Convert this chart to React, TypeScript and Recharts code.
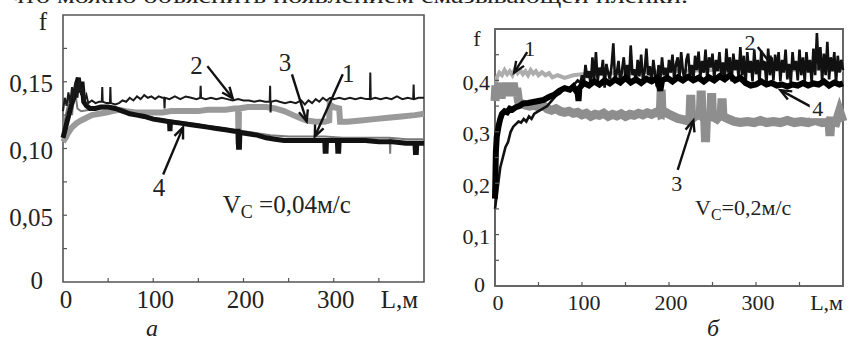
import { LineChart, Line, XAxis, YAxis, ReferenceArea, ReferenceLine, ReferenceDot } from "recharts";

type Pt = [number, number];

// ---- panel "а" (Vc = 0,04 м/с) ----
const A_X_TICKS = [0, 50, 100, 150, 200, 250, 300, 350, 400];
const A_X_LABELS = ["0", "", "100", "", "200", "", "300", "", "L,м"];
const A_Y_TICKS = [0, 0.025, 0.05, 0.075, 0.1, 0.125, 0.15, 0.175, 0.2];
const A_Y_LABELS = ["0", "", "0,05", "", "0,10", "", "0,15", "", "f"];

const A_LINE1: Pt[] = [
  [0, 0.115], [4, 0.128], [8, 0.14], [10, 0.125], [13, 0.145], [16, 0.13], [20, 0.128], [30, 0.129],
  [40, 0.13], [55, 0.13], [70, 0.127], [90, 0.124], [110, 0.122], [130, 0.12], [150, 0.118], [170, 0.116],
  [190, 0.114], [210, 0.112], [230, 0.11], [250, 0.109], [270, 0.109], [290, 0.109], [310, 0.108],
  [330, 0.108], [350, 0.108], [362, 0.108], [362.5, 0.096], [363, 0.108], [380, 0.107], [400, 0.107],
];

const A_LINE2: Pt[] = [
  [0, 0.128], [2, 0.138], [4, 0.132], [6, 0.142], [8, 0.134], [10, 0.146], [12, 0.136], [14, 0.15],
  [16, 0.138], [18, 0.152], [20, 0.14], [22, 0.146], [24, 0.136], [26, 0.14], [28, 0.134], [32, 0.136],
  [36, 0.134], [40, 0.135], [43, 0.135], [43.5, 0.146], [44, 0.135], [48, 0.134], [52, 0.134], [52.5, 0.146],
  [53, 0.134], [58, 0.133], [62, 0.134], [66, 0.136], [70, 0.135], [74, 0.138], [78, 0.136], [82, 0.139],
  [86, 0.137], [90, 0.14], [94, 0.138], [98, 0.139], [102, 0.137], [106, 0.139], [110, 0.138], [112, 0.138],
  [112.5, 0.13], [113, 0.138], [118, 0.137], [124, 0.139], [130, 0.137], [136, 0.139], [142, 0.138],
  [148, 0.137], [152, 0.138], [152.5, 0.147], [153, 0.138], [158, 0.137], [164, 0.138], [170, 0.137],
  [176, 0.138], [182, 0.137], [188, 0.136], [194, 0.137], [200, 0.136], [206, 0.136], [212, 0.135],
  [218, 0.136], [224, 0.135], [229, 0.135], [229.5, 0.147], [230, 0.127], [230.5, 0.135], [236, 0.136],
  [240, 0.135], [246, 0.134], [252, 0.135], [258, 0.134], [264, 0.136], [268, 0.133], [272, 0.136],
  [276, 0.134], [280, 0.137], [284, 0.135], [288, 0.138], [292, 0.136], [296, 0.138], [300, 0.137],
  [306, 0.138], [312, 0.137], [318, 0.138], [324, 0.137], [330, 0.138], [336, 0.137], [340, 0.137],
  [340.5, 0.157], [341, 0.137], [346, 0.138], [352, 0.137], [358, 0.138], [364, 0.137], [370, 0.139],
  [376, 0.137], [382, 0.138], [388, 0.137], [388.5, 0.148], [389, 0.137], [394, 0.138], [400, 0.138],
];

const A_LINE3: Pt[] = [
  [0, 0.105], [3, 0.108], [6, 0.112], [10, 0.116], [15, 0.119], [20, 0.121], [26, 0.123], [32, 0.125],
  [40, 0.126], [48, 0.127], [55, 0.128], [62, 0.129], [70, 0.128], [80, 0.127], [90, 0.127], [100, 0.127],
  [110, 0.127], [120, 0.128], [130, 0.128], [140, 0.128], [150, 0.128], [160, 0.129], [170, 0.129],
  [180, 0.129], [190, 0.13], [194, 0.13], [194.5, 0.103], [195, 0.13], [205, 0.131], [215, 0.131],
  [225, 0.131], [235, 0.13], [245, 0.128], [255, 0.125], [262, 0.123], [270, 0.121], [280, 0.12],
  [290, 0.12], [295, 0.121], [295.5, 0.133], [300, 0.131], [306, 0.13], [307, 0.12], [315, 0.12],
  [330, 0.121], [345, 0.122], [360, 0.123], [375, 0.124], [390, 0.125], [400, 0.126],
];

const A_LINE4: Pt[] = [
  [0, 0.108], [3, 0.116], [6, 0.124], [9, 0.132], [12, 0.138], [15, 0.148], [17, 0.153], [19, 0.142],
  [21, 0.15], [23, 0.135], [26, 0.132], [30, 0.13], [36, 0.13], [42, 0.131], [50, 0.131], [58, 0.13],
  [66, 0.128], [74, 0.126], [82, 0.125], [90, 0.124], [100, 0.122], [110, 0.121], [118, 0.12],
  [118.5, 0.113], [119, 0.12], [130, 0.119], [140, 0.118], [150, 0.117], [160, 0.116], [170, 0.115],
  [180, 0.114], [190, 0.113], [194, 0.113], [194.5, 0.101], [195.5, 0.101], [196, 0.112], [205, 0.111],
  [215, 0.11], [225, 0.108], [235, 0.107], [245, 0.106], [255, 0.106], [265, 0.106], [275, 0.106],
  [285, 0.106], [290, 0.106], [290.5, 0.098], [291.5, 0.098], [292, 0.106], [304, 0.106], [304.5, 0.098],
  [305.5, 0.098], [306, 0.106], [320, 0.106], [335, 0.106], [350, 0.105], [365, 0.105], [380, 0.104],
  [390, 0.104], [390.5, 0.097], [391.5, 0.097], [392, 0.104], [400, 0.104],
];

// label position, arrow start, arrow tip (L, f)
const A_NOTES: { text: string; at: Pt; from: Pt; to: Pt }[] = [
  { text: "2", at: [148, 0.162], from: [160, 0.1617], to: [188, 0.1376] },
  { text: "3", at: [246, 0.1644], from: [253.7, 0.1556], to: [270, 0.1203] },
  { text: "1", at: [316, 0.1564], from: [310, 0.1556], to: [279, 0.109] },
  { text: "4", at: [106.4, 0.0707], from: [111, 0.0805], to: [133, 0.1158] },
];

// ---- panel "б" (Vc = 0,2 м/с) ----
const B_X_TICKS = [0, 50, 100, 150, 200, 250, 300, 350, 400];
const B_X_LABELS = ["0", "", "100", "", "200", "", "300", "", "L,м"];
const B_Y_TICKS = [0, 0.05, 0.1, 0.15, 0.2, 0.25, 0.3, 0.35, 0.4, 0.45, 0.5];
const B_Y_LABELS = ["0", "", "0,1", "", "0,2", "", "0,3", "", "0,4", "", "f"];

const B_LINE1: Pt[] = [
  [0, 0.36], [2, 0.405], [5, 0.415], [8, 0.41], [11, 0.42], [14, 0.412], [17, 0.418], [20, 0.41],
  [23, 0.422], [26, 0.414], [29, 0.42], [32, 0.412], [35, 0.418], [38, 0.41], [41, 0.42], [44, 0.413],
  [47, 0.418], [50, 0.41], [54, 0.416], [58, 0.41], [62, 0.414], [66, 0.406], [72, 0.41], [80, 0.405],
  [90, 0.41], [100, 0.412], [150, 0.415], [200, 0.418], [250, 0.42], [300, 0.425], [320, 0.43],
  [340, 0.42], [360, 0.425], [380, 0.42], [400, 0.42],
];

const B_LINE2: Pt[] = [
  [0, 0.15], [3, 0.19], [6, 0.23], [9, 0.25], [12, 0.27], [15, 0.28], [18, 0.3], [21, 0.31], [24, 0.315],
  [27, 0.32], [30, 0.318], [33, 0.325], [36, 0.32], [39, 0.33], [42, 0.325], [45, 0.335], [50, 0.34],
  [55, 0.345], [60, 0.35], [65, 0.36], [70, 0.37], [75, 0.375], [80, 0.385], [85, 0.38], [90, 0.39],
  [95, 0.4], [98, 0.395],
  [100, 0.41], [102, 0.392], [104, 0.43], [106, 0.405], [108, 0.418], [110, 0.39], [112, 0.445], [114, 0.4],
  [116, 0.455], [118, 0.398], [120, 0.425], [122, 0.41], [124, 0.44], [126, 0.386], [128, 0.432], [130, 0.415],
  [132, 0.402], [134, 0.428], [136, 0.472], [138, 0.4], [140, 0.415], [142, 0.438], [144, 0.392], [146, 0.42],
  [148, 0.445], [150, 0.405], [152, 0.43], [154, 0.398], [156, 0.468], [158, 0.41], [160, 0.422], [162, 0.395],
  [164, 0.44], [166, 0.408], [168, 0.45], [170, 0.402], [172, 0.418], [174, 0.462], [176, 0.41], [178, 0.428],
  [180, 0.395], [182, 0.44], [184, 0.412], [186, 0.388], [188, 0.43], [190, 0.4], [192, 0.445], [194, 0.41],
  [196, 0.425], [198, 0.398], [200, 0.44], [202, 0.415], [204, 0.45], [206, 0.4], [208, 0.432], [210, 0.445],
  [212, 0.405], [214, 0.455], [216, 0.418], [218, 0.398], [220, 0.44], [222, 0.452], [224, 0.41], [226, 0.43],
  [228, 0.4], [230, 0.448], [232, 0.42], [234, 0.456], [236, 0.405], [238, 0.438], [240, 0.415], [242, 0.46],
  [244, 0.4], [246, 0.445], [248, 0.425], [250, 0.452], [252, 0.402], [254, 0.44], [256, 0.418], [258, 0.455],
  [260, 0.41], [262, 0.435], [264, 0.4], [266, 0.462], [268, 0.415], [270, 0.445], [272, 0.398], [274, 0.452],
  [276, 0.42], [278, 0.44], [280, 0.405], [282, 0.465], [284, 0.41], [286, 0.448], [288, 0.39], [290, 0.455],
  [292, 0.415], [294, 0.438], [296, 0.398], [298, 0.46], [300, 0.412], [302, 0.44], [304, 0.395], [306, 0.458],
  [308, 0.42], [310, 0.435], [312, 0.392], [314, 0.462], [316, 0.41], [318, 0.445], [320, 0.4], [322, 0.45],
  [324, 0.418], [326, 0.455], [328, 0.398], [330, 0.44], [332, 0.415], [334, 0.46], [336, 0.402], [338, 0.432],
  [340, 0.395], [342, 0.455], [344, 0.42], [346, 0.438], [348, 0.4], [350, 0.46], [352, 0.41], [354, 0.445],
  [356, 0.398], [358, 0.455], [360, 0.415], [362, 0.44], [364, 0.395], [366, 0.462], [368, 0.41], [370, 0.492],
  [372, 0.42], [374, 0.465], [376, 0.398], [378, 0.452], [380, 0.41], [382, 0.475], [384, 0.402], [386, 0.445],
  [388, 0.418], [390, 0.455], [392, 0.395], [394, 0.448], [396, 0.415], [398, 0.44], [400, 0.42],
];

const B_LINE3: Pt[] = [
  [0, 0.36], [1, 0.39], [3, 0.37], [5, 0.395], [7, 0.365], [9, 0.39], [11, 0.37], [13, 0.395], [15, 0.37],
  [17, 0.39], [19, 0.375], [21, 0.395], [23, 0.37], [25, 0.385], [27, 0.36], [30, 0.355], [35, 0.352],
  [40, 0.35], [45, 0.352], [50, 0.348], [55, 0.352], [60, 0.345], [65, 0.342], [70, 0.345], [75, 0.34],
  [80, 0.338], [85, 0.34], [90, 0.336], [95, 0.338], [100, 0.333], [105, 0.336], [110, 0.33], [115, 0.334],
  [120, 0.332], [125, 0.336], [130, 0.33], [135, 0.334], [140, 0.331], [145, 0.335], [150, 0.33],
  [155, 0.334], [160, 0.332], [165, 0.336], [170, 0.333], [175, 0.337], [180, 0.334], [185, 0.338],
  [190, 0.335], [191, 0.382], [192, 0.335], [196, 0.338], [200, 0.334], [205, 0.33], [210, 0.326],
  [215, 0.324], [220, 0.322], [224, 0.325], [225, 0.372], [226, 0.325], [230, 0.33], [236, 0.335],
  [237, 0.38], [238, 0.33], [241, 0.325], [242, 0.28], [243, 0.325], [248, 0.33], [249, 0.375], [250, 0.33],
  [255, 0.325], [260, 0.335], [261, 0.365], [262, 0.33], [268, 0.325], [275, 0.32], [282, 0.318],
  [290, 0.32], [298, 0.318], [305, 0.322], [312, 0.318], [320, 0.32], [328, 0.318], [336, 0.322],
  [344, 0.318], [352, 0.32], [360, 0.318], [368, 0.322], [376, 0.318], [384, 0.32], [385, 0.292],
  [386, 0.32], [392, 0.318], [396, 0.34], [400, 0.32],
];

const B_LINE4: Pt[] = [
  [0, 0.17], [1, 0.26], [2, 0.29], [4, 0.31], [6, 0.325], [8, 0.335], [11, 0.34], [14, 0.338], [17, 0.345],
  [20, 0.343], [24, 0.348], [28, 0.35], [32, 0.355], [38, 0.356], [44, 0.358], [50, 0.36], [56, 0.362],
  [62, 0.368], [68, 0.372], [74, 0.38], [80, 0.385], [86, 0.382], [90, 0.388], [95, 0.375], [96, 0.36],
  [97, 0.385], [102, 0.395], [108, 0.39], [114, 0.398], [120, 0.392], [126, 0.4], [132, 0.394],
  [138, 0.402], [144, 0.396], [150, 0.405], [156, 0.396], [162, 0.402], [168, 0.395], [174, 0.403],
  [180, 0.398], [186, 0.404], [190, 0.38], [192, 0.4], [198, 0.405], [204, 0.398], [210, 0.406],
  [216, 0.4], [222, 0.407], [228, 0.4], [234, 0.405], [240, 0.398], [246, 0.406], [252, 0.4], [258, 0.408],
  [264, 0.402], [270, 0.41], [276, 0.4], [282, 0.405], [288, 0.395], [294, 0.39], [300, 0.392],
  [306, 0.398], [312, 0.392], [318, 0.395], [324, 0.39], [330, 0.392], [336, 0.388], [342, 0.392],
  [348, 0.39], [354, 0.395], [360, 0.39], [366, 0.394], [372, 0.392], [378, 0.398], [384, 0.39],
  [390, 0.396], [396, 0.392], [400, 0.394],
];

const B_NOTES: { text: string; at: Pt; from: Pt; to: Pt; box?: boolean }[] = [
  { text: "1", at: [40, 0.462], from: [37, 0.455], to: [22, 0.415] },
  { text: "2", at: [293, 0.474], from: [302, 0.465], to: [320, 0.426] },
  { text: "4", at: [371, 0.346], from: [364, 0.348], to: [328, 0.381], box: true },
  { text: "3", at: [209, 0.2], from: [210, 0.226], to: [228, 0.322] },
];

const SERIF = "'Liberation Serif', 'Times New Roman', serif";
const FRAME = "#555";

const rows = (pts: Pt[]) => pts.map(([L, f]) => ({ L, f }));

function Arrow(p: any) {
  const { x1, y1, x2, y2 } = p;
  const a = Math.atan2(y2 - y1, x2 - x1);
  const len = 12;
  const w = 0.4;
  const hx1 = x2 - len * Math.cos(a - w);
  const hy1 = y2 - len * Math.sin(a - w);
  const hx2 = x2 - len * Math.cos(a + w);
  const hy2 = y2 - len * Math.sin(a + w);
  return (
    <g>
      <line x1={x1} y1={y1} x2={x2} y2={y2} stroke="#111" strokeWidth={2.4} />
      <polyline points={`${hx1},${hy1} ${x2},${y2} ${hx2},${hy2}`} fill="none" stroke="#111" strokeWidth={2.4} />
    </g>
  );
}

function yTick(ticks: number[], labels: string[], fs: number, gap: number, zeroShift: number, fDx: number, fDy: number) {
  return (p: any) => {
    const i = ticks.indexOf(p.payload.value);
    const last = i === ticks.length - 1;
    const label = labels[i] ?? "";
    if (last) {
      return (
        <text x={p.x - fDx} y={p.y + fDy} textAnchor="middle" dominantBaseline="central" fontFamily={SERIF} fontSize={fs} fill="#222">
          {label}
        </text>
      );
    }
    return (
      <g>
        {i > 0 && <line x1={p.x} x2={p.x + 4} y1={p.y} y2={p.y} stroke={FRAME} strokeWidth={1.2} />}
        <text x={p.x - gap - (i === 0 ? zeroShift : 0)} y={p.y + (i === 0 ? -2 : 2)} textAnchor="end" dominantBaseline="central" fontFamily={SERIF} fontSize={fs} fill="#222">
          {label}
        </text>
      </g>
    );
  };
}

function xTick(ticks: number[], labels: string[], fs: number, dy: number, lastDx: number) {
  return (p: any) => {
    const i = ticks.indexOf(p.payload.value);
    const last = i === ticks.length - 1;
    const label = labels[i] ?? "";
    return (
      <g>
        {i > 0 && !last && <line x1={p.x} x2={p.x} y1={p.y} y2={p.y - 4} stroke={FRAME} strokeWidth={1.2} />}
        <text
          x={last ? p.x - lastDx : p.x + (i === 0 ? 3 : 2)}
          y={p.y + dy}
          textAnchor={last ? "end" : "middle"}
          dominantBaseline="central"
          fontFamily={SERIF}
          fontSize={fs}
          fill="#222"
        >
          {label}
        </text>
      </g>
    );
  };
}

function noteText(text: string, fs: number, box?: boolean) {
  return (p: any) => (
    <g>
      {box && <rect x={p.cx - 8} y={p.cy - 10} width={16} height={20} fill="#fff" />}
      <text x={p.cx} y={p.cy} textAnchor="middle" dominantBaseline="central" fontFamily={SERIF} fontSize={fs} fill="#222">
        {text}
      </text>
    </g>
  );
}

function speedText(value: string, fs: number) {
  return (p: any) => (
    <text x={p.cx} y={p.cy} fontFamily={SERIF} fontSize={fs} fill="#222">
      <tspan>V</tspan>
      <tspan dy={5} fontSize={fs * 0.72}>C</tspan>
      <tspan dy={-5}>{value}</tspan>
    </text>
  );
}

function PanelA() {
  return (
    <LineChart width={430} height={344} margin={{ top: 15, right: 6, bottom: 0, left: 0 }}>
      <XAxis dataKey="L" type="number" domain={[0, 400]} ticks={A_X_TICKS} interval={0} height={62} axisLine={false} tickLine={false} tickSize={0} tickMargin={0} tick={xTick(A_X_TICKS, A_X_LABELS, 25, 17, 6)} />
      <YAxis type="number" domain={[0, 0.2]} ticks={A_Y_TICKS} interval={0} width={63} axisLine={false} tickLine={false} tickSize={0} tickMargin={0} tick={yTick(A_Y_TICKS, A_Y_LABELS, 25, 10, 10, 20, 6)} />
      <ReferenceArea x1={0} x2={400} y1={0} y2={0.2} fill="none" stroke={FRAME} strokeWidth={1.6} />
      <Line data={rows(A_LINE1)} dataKey="f" stroke="#7a7a7a" strokeWidth={2} dot={false} activeDot={false} isAnimationActive={false} />
      <Line data={rows(A_LINE3)} dataKey="f" stroke="#9a9a9a" strokeWidth={6} dot={false} activeDot={false} isAnimationActive={false} />
      <Line data={rows(A_LINE4)} dataKey="f" stroke="#111" strokeWidth={5} dot={false} activeDot={false} isAnimationActive={false} />
      <Line data={rows(A_LINE2)} dataKey="f" stroke="#1a1a1a" strokeWidth={2} dot={false} activeDot={false} isAnimationActive={false} />
      {A_NOTES.map((n) => (
        <ReferenceLine key={"a" + n.text} segment={[{ x: n.from[0], y: n.from[1] }, { x: n.to[0], y: n.to[1] }]} shape={Arrow} />
      ))}
      {A_NOTES.map((n) => (
        <ReferenceDot key={"at" + n.text} x={n.at[0]} y={n.at[1]} r={0} shape={noteText(n.text, 25)} />
      ))}
      <ReferenceDot x={177} y={0.0519} r={0} shape={speedText(" =0,04м/с", 25)} />
    </LineChart>
  );
}

function PanelB() {
  return (
    <LineChart width={423} height={344} margin={{ top: 29, right: 10, bottom: 0, left: 0 }}>
      <XAxis dataKey="L" type="number" domain={[0, 400]} ticks={B_X_TICKS} interval={0} height={58} axisLine={false} tickLine={false} tickSize={0} tickMargin={0} tick={xTick(B_X_TICKS, B_X_LABELS, 22, 16.5, 0)} />
      <YAxis type="number" domain={[0, 0.5]} ticks={B_Y_TICKS} interval={0} width={65} axisLine={false} tickLine={false} tickSize={0} tickMargin={0} tick={yTick(B_Y_TICKS, B_Y_LABELS, 22, 5, 5, 18, 9)} />
      <ReferenceArea x1={0} x2={400} y1={0} y2={0.5} fill="none" stroke="#666" strokeWidth={2} />
      <Line data={rows(B_LINE1)} dataKey="f" stroke="#adadad" strokeWidth={4} dot={false} activeDot={false} isAnimationActive={false} />
      <Line data={rows(B_LINE3)} dataKey="f" stroke="#8e8e8e" strokeWidth={9} dot={false} activeDot={false} isAnimationActive={false} />
      <Line data={rows(B_LINE2)} dataKey="f" stroke="#111" strokeWidth={2.6} dot={false} activeDot={false} isAnimationActive={false} />
      <Line data={rows(B_LINE4)} dataKey="f" stroke="#000" strokeWidth={6} dot={false} activeDot={false} isAnimationActive={false} />
      {B_NOTES.map((n) => (
        <ReferenceLine key={"b" + n.text} segment={[{ x: n.from[0], y: n.from[1] }, { x: n.to[0], y: n.to[1] }]} shape={Arrow} />
      ))}
      {B_NOTES.map((n) => (
        <ReferenceDot key={"bt" + n.text} x={n.at[0]} y={n.at[1]} r={0} shape={noteText(n.text, 22, n.box)} />
      ))}
      <ReferenceDot x={230} y={0.138} r={0} shape={speedText("=0,2м/с", 22)} />
    </LineChart>
  );
}

export default function App() {
  return (
    <div style={{ position: "absolute", left: 0, top: 0, width: 853, height: 344, background: "#fff", overflow: "hidden" }}>
      <div style={{ position: "absolute", left: 0, top: 0 }}>
        <PanelA />
      </div>
      <div style={{ position: "absolute", left: 430, top: 0 }}>
        <PanelB />
      </div>
      <svg width={853} height={344} style={{ position: "absolute", left: 0, top: 0, pointerEvents: "none" }}>
        <text x={10} y={3} fontFamily={SERIF} fontSize={20} fill="#222" textLength={678} lengthAdjust="spacingAndGlyphs">
          что можно объяснить появлением смазывающей пленки.
        </text>
        <text x={152} y={336} textAnchor="middle" fontFamily={SERIF} fontStyle="italic" fontSize={24} fill="#222">
          а
        </text>
        <text x={713} y={336} textAnchor="middle" fontFamily={SERIF} fontStyle="italic" fontSize={24} fill="#222">
          б
        </text>
      </svg>
    </div>
  );
}
